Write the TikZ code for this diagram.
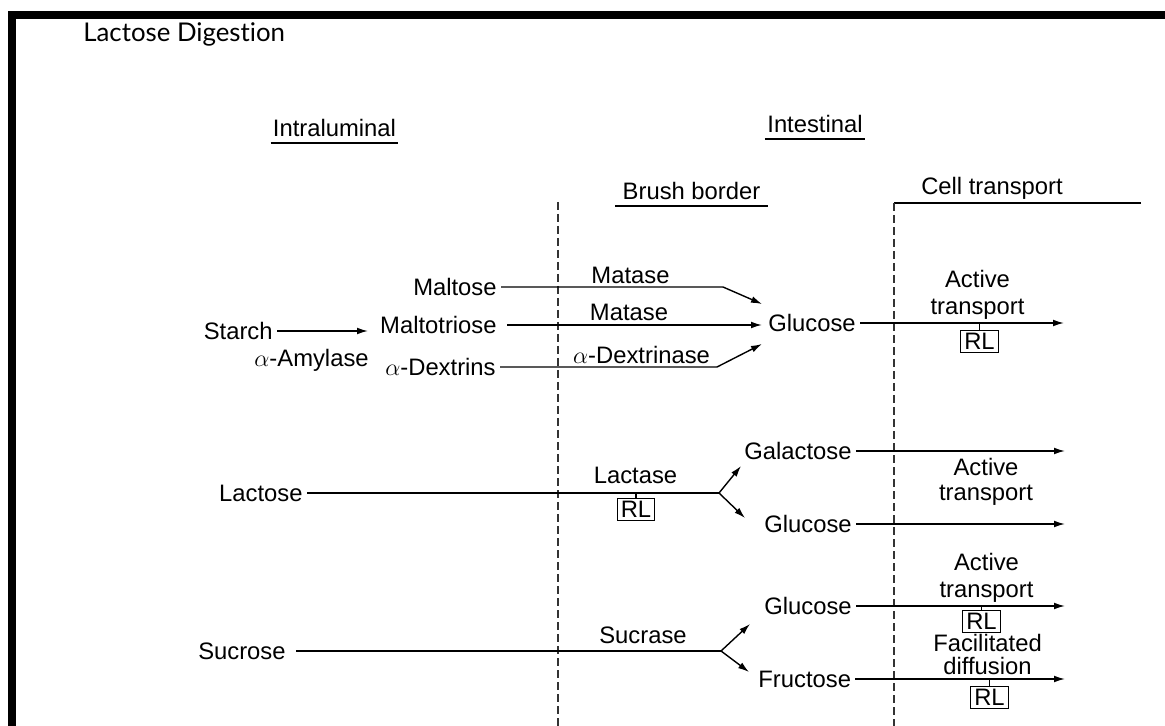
\documentclass[tikz,border=0pt]{standalone}
\usepackage{fontspec}
\setmainfont{Liberation Sans}
\newfontfamily\titlefont[Ligatures=NoCommon]{Lato}
\usetikzlibrary{arrows.meta}

\begin{document}
\begin{tikzpicture}[
  x=0.5pt, y=-0.5pt,
  every node/.style={inner sep=2pt, font=\fontsize{11.9}{14}\selectfont},
  lbl/.style={align=center},
  head/.style={inner xsep=1pt, inner ysep=2.8pt, text depth=0pt, anchor=base},
  rlbox/.style={draw, inner xsep=1.8pt, inner ysep=1.4pt, line width=0.6pt},
  flow/.style={line width=0.7pt},
  arr/.style={flow, -{Latex[length=5.5pt,width=3.4pt]}},
  zone/.style={line width=0.6pt, black!80, dash pattern=on 4pt off 2pt}
]
\useasboundingbox (0,0) rectangle (1165,726);

% frame
\fill (8,11) rectangle (16,726);
\fill (8,11) rectangle (1165,19);

\node[anchor=base west, inner sep=0pt, font=\titlefont\fontsize{12.9}{15}\selectfont] (title) at (83,42) {Lactose Digestion};

% column headers
\node[head] (intra) at (334.5,137) {Intraluminal};
\node[head] (intest) at (815,133) {Intestinal};
\node[head, inner xsep=3.5pt] (brush) at (691.5,200) {Brush border};
\node[anchor=base] (cell) at (992,195) {Cell transport};
\draw[line width=0.6pt] (intra.south west) -- (intra.south east);
\draw[line width=0.6pt] (intest.south west) -- (intest.south east);
\draw[line width=0.6pt] (brush.south west) -- (brush.south east);

% zone borders
\coordinate (bbtop) at (558,202);
\coordinate (bbbot) at (558,726);
\coordinate (cttop) at (894,203);
\coordinate (ctend) at (1141,203);
\coordinate (ctbot) at (894,726);
\draw[zone] (bbtop) -- (bbbot);
\draw[line width=0.6pt] (ctend) -- (cttop);
\draw[zone] (cttop) -- (ctbot);

% starch
\node[anchor=east] (starch) at (277,331) {Starch};
\node (amylase) at (311.5,360) {$\alpha$-Amylase};
\coordinate (starchend) at (368,331);
\draw[arr] (starch.east) -- (starchend);

\node[anchor=east] (maltose) at (501,287) {Maltose};
\node[anchor=east, inner xsep=5pt] (maltotriose) at (507,325) {Maltotriose};
\node[anchor=east] (dextrins) at (500,367) {$\alpha$-Dextrins};

\node (matase1) at (630.5,275) {Matase};
\node (matase2) at (629,312) {Matase};
\node (dextrinase) at (641.5,355) {$\alpha$-Dextrinase};

\coordinate (k1) at (723,287);
\coordinate (g1a) at (762,304);
\coordinate (g1b) at (762,325);
\coordinate (k3) at (717,367);
\coordinate (g1c) at (762,344);
\draw[arr] (maltose.east) -- (k1) -- (g1a);
\draw[arr] (maltotriose.east) -- (g1b);
\draw[arr] (dextrins.east) -- (k3) -- (g1c);

\node[anchor=west] (glu1) at (764,323) {Glucose};
\coordinate (glu1out) at (1064,323);
\draw[arr] (glu1.east) -- (glu1out);
\node[lbl, font=\fontsize{11.9}{13.5}\selectfont] (act1) at (977.5,294.4) {Active\\transport};
\node[rlbox] (rl1) at (979.5,341.5) {RL};
\draw[line width=0.6pt] (rl1.north) -- (rl1.north |- glu1out);

% lactose
\node[anchor=east] (lactose) at (307,493) {Lactose};
\node (lactase) at (635.5,475) {Lactase};
\coordinate (split1) at (719,493);
\draw[flow] (lactose.east) -- (split1);
\node[rlbox] (rl2) at (636,509.5) {RL};
\draw[line width=0.6pt] (rl2.north) -- (rl2.north |- split1);

\node[anchor=west] (gal) at (740,451) {Galactose};
\node[anchor=west] (glu2) at (760,524) {Glucose};
\coordinate (galin) at (741,466);
\coordinate (glu2in) at (745,518);
\draw[arr] (split1) -- (galin);
\draw[arr] (split1) -- (glu2in);
\coordinate (galout) at (1065,451);
\coordinate (glu2out) at (1065,524);
\draw[arr] (gal.east) -- (galout);
\draw[arr] (glu2.east) -- (glu2out);
\node[lbl, font=\fontsize{11.9}{12.5}\selectfont] (act2) at (986,481.4) {Active\\transport};

% sucrose
\node[anchor=east, inner xsep=5pt] (sucrose) at (296,651) {Sucrose};
\node (sucrase) at (643,635) {Sucrase};
\coordinate (split2) at (721,651);
\draw[flow] (sucrose.east) -- (split2);

\node[anchor=west] (glu3) at (760,606) {Glucose};
\node[anchor=west] (fru) at (754,679) {Fructose};
\coordinate (glu3in) at (750,624);
\coordinate (fruin) at (749,672);
\draw[arr] (split2) -- (glu3in);
\draw[arr] (split2) -- (fruin);
\coordinate (glu3out) at (1065,606);
\coordinate (fruout) at (1065,679);
\draw[arr] (glu3.east) -- (glu3out);
\draw[arr] (fru.east) -- (fruout);

\node[lbl, font=\fontsize{11.9}{13.5}\selectfont] (act3) at (986.5,577.4) {Active\\transport};
\node[rlbox] (rl3) at (981.5,621.5) {RL};
\draw[line width=0.6pt] (rl3.north) -- (rl3.north |- glu3out);
\node[lbl, font=\fontsize{11.9}{11.5}\selectfont] (fac) at (987.5,654.8) {Facilitated\\diffusion};
\node[rlbox] (rl4) at (989.5,697.5) {RL};
\draw[line width=0.6pt] (rl4.north) -- (rl4.north |- fruout);

\end{tikzpicture}
\end{document}
